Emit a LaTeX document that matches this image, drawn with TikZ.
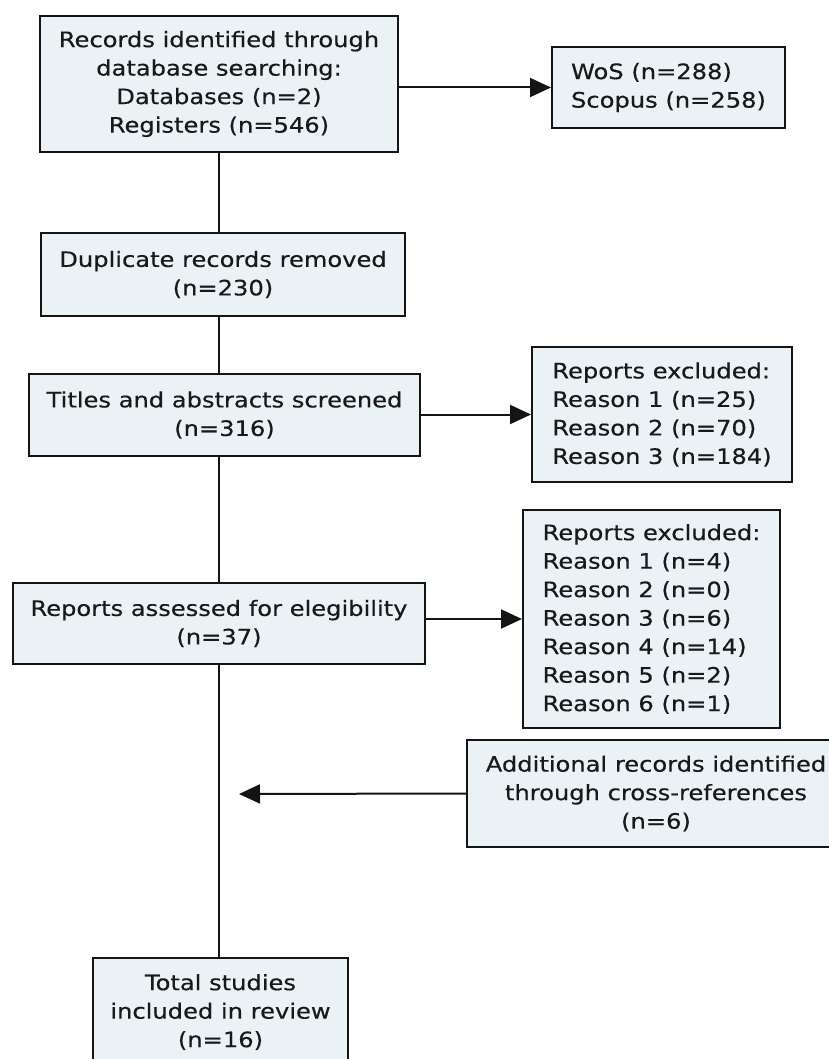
\documentclass[tikz,border=0pt]{standalone}
\usepackage{fontspec}
\setmainfont{DejaVu Sans}[FakeStretch=1.14,FakeBold=0.4]
\usetikzlibrary{arrows.meta}
\definecolor{boxfill}{RGB}{234,242,246}
\definecolor{edge}{RGB}{20,20,20}
\begin{document}
\begin{tikzpicture}[x=1pt,y=-1pt,
  box/.style={draw=edge, line width=2pt, fill=boxfill, inner sep=0pt,
    font=\fontsize{21.2}{28.5}\selectfont, text=black!90, align=center},
  lbox/.style={box, align=left},
  conn/.style={line width=2pt, draw=edge},
  arr/.style={conn, -{Triangle[length=21pt,width=19pt]}}]
\useasboundingbox (0,0) rectangle (828,1059);
\node[box, minimum width=358pt, minimum height=136pt] (b1) at (219,84)
  {Records identified through\\database searching:\\Databases (n=2)\\Registers (n=546)};
\node[lbox, minimum width=233pt, minimum height=81pt] (wos) at (668.5,87.5)
  {WoS (n=288)\\Scopus (n=258)};
\node[box, minimum width=364pt, minimum height=83pt] (b2) at (223,274.5)
  {Duplicate records removed\\(n=230)};
\node[box, minimum width=391pt, minimum height=82pt] (b3) at (224.5,415)
  {Titles and abstracts screened\\(n=316)};
\node[lbox, minimum width=260pt, minimum height=135pt] (b4) at (662,414.5)
  {Reports excluded:\\Reason 1 (n=25)\\Reason 2 (n=70)\\Reason 3 (n=184)};
\node[box, minimum width=412pt, minimum height=81pt] (b5) at (219,623.5)
  {Reports assessed for elegibility\\(n=37)};
\node[lbox, minimum width=257pt, minimum height=218pt] (b6) at (651.5,619)
  {Reports excluded:\\Reason 1 (n=4)\\Reason 2 (n=0)\\Reason 3 (n=6)\\Reason 4 (n=14)\\Reason 5 (n=2)\\Reason 6 (n=1)};
\node[box, minimum width=378pt, minimum height=107pt] (b7) at (656,793.5)
  {Additional records identified\\through cross-references\\(n=6)};
\node[box, minimum width=255pt, minimum height=108pt] (b8) at (220.5,1012)
  {Total studies\\included in review\\(n=16)};
\coordinate (join) at (239,794);
\draw[conn] (b1.south) -- (b1.south |- b2.north);
\draw[conn] (b1.south |- b2.south) -- (b1.south |- b3.north);
\draw[conn] (b1.south |- b3.south) -- (b1.south |- b5.north);
\draw[conn] (b1.south |- b5.south) -- (b1.south |- b8.north);
\draw[arr] (b1.east |- wos.west) -- (wos.west);
\draw[arr] (b3.east |- b4.west) -- (b4.west);
\draw[arr] (b5.east |- b6.west) -- (b6.west);
\draw[arr] (b7.west) -- (join);
\end{tikzpicture}
\end{document}
